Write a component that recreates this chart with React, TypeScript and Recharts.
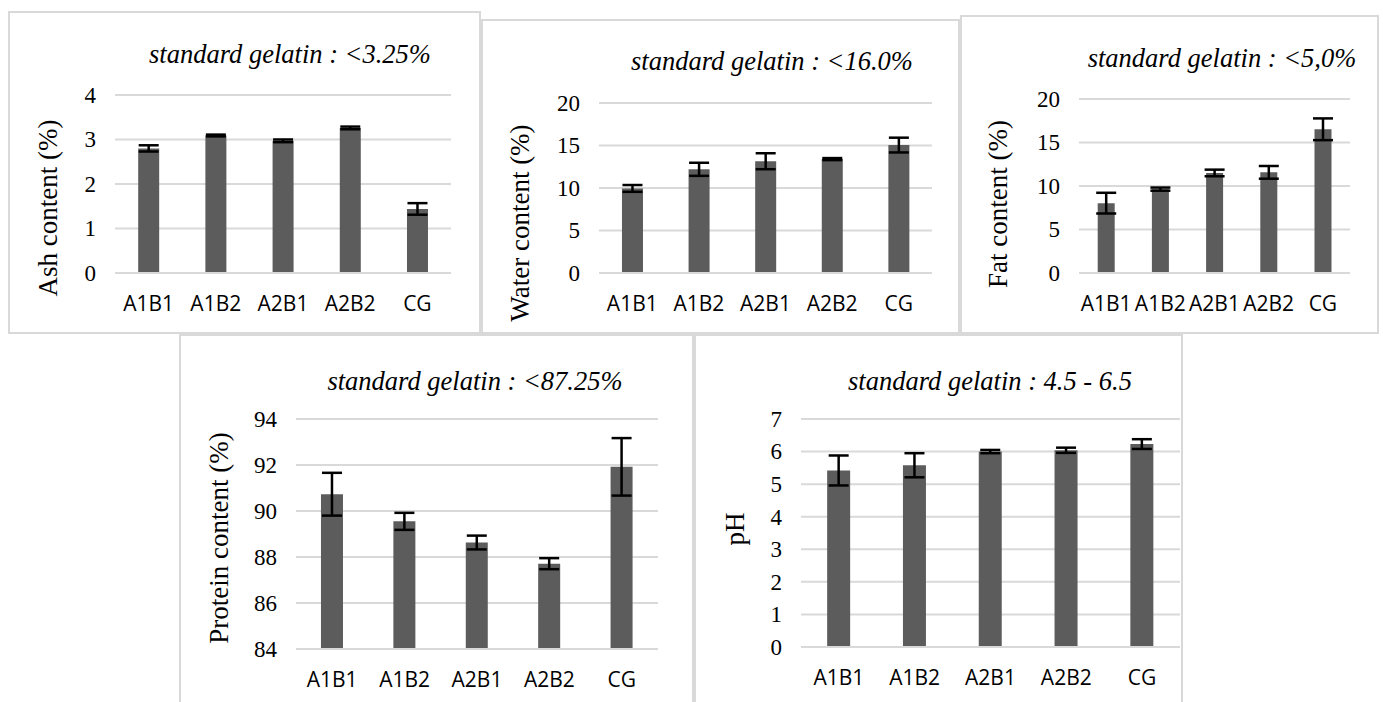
import React from 'react';
import { BarChart, Bar, XAxis, YAxis, CartesianGrid, ErrorBar } from 'recharts';

const categories = ['A1B1', 'A1B2', 'A2B1', 'A2B2', 'CG'];

const ashValues = [2.8, 3.09, 2.97, 3.26, 1.44];
const ashErrors = [0.07, 0.02, 0.03, 0.03, 0.13];
const ashTicks = [0, 1, 2, 3, 4];

const waterValues = [9.95, 12.2, 13.15, 13.4, 15.05];
const waterErrors = [0.4, 0.77, 0.94, 0.12, 0.87];
const waterTicks = [0, 5, 10, 15, 20];

const fatValues = [8.03, 9.64, 11.5, 11.57, 16.52];
const fatErrors = [1.19, 0.18, 0.38, 0.73, 1.25];
const fatTicks = [0, 5, 10, 15, 20];

const proteinValues = [90.73, 89.55, 88.63, 87.71, 91.92];
const proteinErrors = [0.93, 0.37, 0.3, 0.24, 1.25];
const proteinTicks = [84, 86, 88, 90, 92, 94];

const phValues = [5.42, 5.58, 6.0, 6.04, 6.23];
const phErrors = [0.46, 0.37, 0.05, 0.08, 0.15];
const phTicks = [0, 1, 2, 3, 4, 5, 6, 7];

const titles = [
  'standard gelatin : <3.25%',
  'standard gelatin : <16.0%',
  'standard gelatin : <5,0%',
  'standard gelatin : <87.25%',
  'standard gelatin : 4.5 - 6.5',
];
const axisTitles = ['Ash content (%)', 'Water content (%)', 'Fat content (%)', 'Protein content (%)', 'pH'];

const build = (values: number[], errors: number[]) =>
  categories.map((name, i) => ({ name, value: values[i], error: errors[i] }));

const renderXTick = (props: any) => (
  <text
    x={props.x}
    y={props.y}
    dy="0.72em"
    textAnchor="middle"
    style={{ fontFamily: '"Open Sans"', fontSize: '21px', fill: '#000' }}
  >
    {props.payload.value}
  </text>
);

const renderYTick = (props: any) => (
  <text
    x={props.x}
    y={props.y}
    dy="0.34em"
    textAnchor="end"
    style={{ fontFamily: '"Liberation Serif"', fontSize: '23px', fill: '#000' }}
  >
    {props.payload.value}
  </text>
);

type PanelProps = {
  box: number[];
  plot: number[];
  data: any[];
  ticks: number[];
  domain: number[];
};

function Panel({ box, plot, data, ticks, domain }: PanelProps) {
  const [px, py, pw, ph] = box;
  const [l, t, r, b] = plot;
  const yw = l - px;
  const top = t - py;
  const right = px + pw - r;
  const xh = py + ph - b;
  return (
    <div style={{ position: 'absolute', left: px, top: py, width: pw, height: ph, background: '#fff' }}>
      <BarChart
        width={pw}
        height={ph}
        data={data}
        margin={{ top, right, bottom: 0, left: 0 }}
        barCategoryGap="34.5%"
      >
        <CartesianGrid vertical={false} stroke="#d9d9d9" strokeWidth={2} />
        <XAxis
          dataKey="name"
          height={xh}
          interval={0}
          tickLine={false}
          axisLine={{ stroke: '#d9d9d9', strokeWidth: 2 }}
          tickSize={0}
          tickMargin={23}
          fontSize={21}
          fontFamily="Open Sans"
          tick={renderXTick}
        />
        <YAxis
          type="number"
          width={yw}
          domain={domain}
          ticks={ticks}
          interval={0}
          allowDataOverflow
          axisLine={false}
          tickLine={false}
          tickSize={0}
          tickMargin={19}
          fontSize={23}
          fontFamily="Liberation Serif"
          tick={renderYTick}
        />
        <Bar dataKey="value" fill="#5c5c5c" isAnimationActive={false}>
          <ErrorBar dataKey="error" width={10} strokeWidth={2.5} stroke="#000" direction="y" isAnimationActive={false} />
        </Bar>
      </BarChart>
      <div
        style={{
          position: 'absolute',
          left: 0,
          top: 0,
          right: 0,
          bottom: 0,
          border: '2px solid #d9d9d9',
          pointerEvents: 'none',
        }}
      />
    </div>
  );
}

const panels = [
  { box: [8, 11, 473, 323], plot: [115, 95, 451, 273], data: build(ashValues, ashErrors), ticks: ashTicks, domain: [0, 4] },
  { box: [481, 19, 479, 315], plot: [599, 103, 932, 273], data: build(waterValues, waterErrors), ticks: waterTicks, domain: [0, 20] },
  { box: [960, 15, 419, 319], plot: [1079, 99, 1350, 273], data: build(fatValues, fatErrors), ticks: fatTicks, domain: [0, 20] },
  { box: [179, 334, 515, 380], plot: [296, 419, 658, 649], data: build(proteinValues, proteinErrors), ticks: proteinTicks, domain: [84, 94] },
  { box: [694, 334, 489, 380], plot: [801, 419, 1180, 647], data: build(phValues, phErrors), ticks: phTicks, domain: [0, 7] },
];

const titlePos = [
  [290, 63],
  [772, 70],
  [1222, 67],
  [475, 390],
  [990, 390],
];
const axisTitlePos = [
  [48, 208],
  [520, 223],
  [998, 204],
  [219, 538],
  [735, 529],
];

export default function App() {
  return (
    <div style={{ position: 'fixed', left: 0, top: 0, width: 1383, height: 702, overflow: 'hidden', background: '#fff' }}>
      {panels.map((p, i) => (
        <Panel key={i} box={p.box} plot={p.plot} data={p.data} ticks={p.ticks} domain={p.domain} />
      ))}
      <svg
        width={1383}
        height={702}
        style={{ position: 'absolute', left: 0, top: 0, pointerEvents: 'none' }}
      >
        {titles.map((t, i) => (
          <text
            key={'t' + i}
            x={titlePos[i][0]}
            y={titlePos[i][1]}
            textAnchor="middle"
            fontFamily="Liberation Serif"
            fontStyle="italic"
            fontSize={26.5}
            fill="#000"
          >
            {t}
          </text>
        ))}
        {axisTitles.map((t, i) => (
          <text
            key={'a' + i}
            x={axisTitlePos[i][0]}
            y={axisTitlePos[i][1]}
            textAnchor="middle"
            dominantBaseline="central"
            fontFamily="Liberation Serif"
            fontSize={27}
            fill="#000"
            transform={`rotate(-90 ${axisTitlePos[i][0]} ${axisTitlePos[i][1]})`}
          >
            {t}
          </text>
        ))}
      </svg>
    </div>
  );
}
